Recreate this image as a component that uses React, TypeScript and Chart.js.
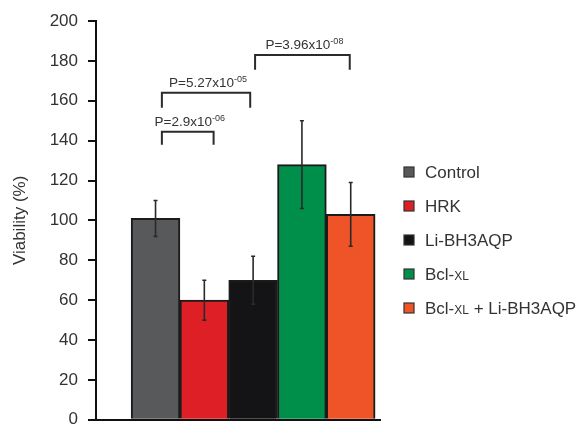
import React, { useEffect, useRef } from "react";
import { Chart, registerables } from "chart.js";

Chart.register(...registerables);

const categories = ["Control", "HRK", "Li-BH3AQP", "Bcl-XL", "Bcl-XL + Li-BH3AQP"];
const viability = [101, 60, 70, 128, 103];
const errors = [9, 10, 12, 22, 16];
const barColors = ["#58595b", "#df1f26", "#141316", "#008f4b", "#ee5428"];
const yTicks = [0, 20, 40, 60, 80, 100, 120, 140, 160, 180, 200];

const bracketFrom = [0.13, 0.13, 2.04];
const bracketTo = [1.19, 1.94, 3.98];
const bracketTop = [144.5, 164, 183];
const bracketLeg = [6.5, 7.5, 7.5];
const bracketMantissa = ["P=2.9x10", "P=5.27x10", "P=3.96x10"];
const bracketExponent = ["-06", "-05", "-08"];

const FONT = "'Liberation Sans', Arial, Helvetica, sans-serif";
const TEXT = "#333333";

const errorBarPlugin = {
  id: "errorBars",
  afterDatasetsDraw(chart: any) {
    const { ctx } = chart;
    const xs = chart.scales.x;
    const ys = chart.scales.y;
    ctx.save();
    ctx.strokeStyle = "#2a2a2a";
    ctx.lineWidth = 1.6;
    viability.forEach((v, i) => {
      const px = xs.getPixelForValue(i);
      const top = ys.getPixelForValue(v + errors[i]);
      const bot = ys.getPixelForValue(v - errors[i]);
      ctx.beginPath();
      ctx.moveTo(px, top);
      ctx.lineTo(px, bot);
      ctx.moveTo(px - 2, top);
      ctx.lineTo(px + 2, top);
      ctx.moveTo(px - 2, bot);
      ctx.lineTo(px + 2, bot);
      ctx.stroke();
    });
    ctx.restore();
  },
};

const bracketPlugin = {
  id: "brackets",
  afterDraw(chart: any) {
    const { ctx } = chart;
    const xs = chart.scales.x;
    const ys = chart.scales.y;
    ctx.save();
    bracketFrom.forEach((from, k) => {
      const x1 = xs.getPixelForValue(from);
      const x2 = xs.getPixelForValue(bracketTo[k]);
      const yt = ys.getPixelForValue(bracketTop[k]);
      const yb = ys.getPixelForValue(bracketTop[k] - bracketLeg[k]);
      ctx.strokeStyle = "#2b2b2b";
      ctx.lineWidth = 2;
      ctx.beginPath();
      ctx.moveTo(x1, yb);
      ctx.lineTo(x1, yt);
      ctx.lineTo(x2, yt);
      ctx.lineTo(x2, yb);
      ctx.stroke();

      ctx.fillStyle = TEXT;
      ctx.textBaseline = "alphabetic";
      ctx.textAlign = "left";
      ctx.font = `13.5px ${FONT}`;
      const w1 = ctx.measureText(bracketMantissa[k]).width;
      ctx.font = `9px ${FONT}`;
      const w2 = ctx.measureText(bracketExponent[k]).width;
      const start = (x1 + x2) / 2 - (w1 + w2) / 2 + 2;
      const base = yt - 6;
      ctx.font = `13.5px ${FONT}`;
      ctx.fillText(bracketMantissa[k], start, base);
      ctx.font = `9px ${FONT}`;
      ctx.fillText(bracketExponent[k], start + w1, base - 5);
    });
    ctx.restore();
  },
};

const legendPlugin = {
  id: "customLegend",
  afterDraw(chart: any) {
    const { ctx, chartArea } = chart;
    const sx = chartArea.right + 24;
    const tx = chartArea.right + 45;
    const y0 = 172;
    const gap = 34;
    ctx.save();
    categories.forEach((label, i) => {
      const cy = y0 + gap * i;
      ctx.fillStyle = barColors[i];
      ctx.fillRect(sx, cy - 5, 10, 10);
      ctx.strokeStyle = "#333";
      ctx.lineWidth = 1.2;
      ctx.strokeRect(sx, cy - 5, 10, 10);

      ctx.fillStyle = TEXT;
      ctx.textBaseline = "alphabetic";
      ctx.textAlign = "left";
      const base = cy + 6;
      const parts = label.split("XL");
      let x = tx;
      parts.forEach((p, j) => {
        ctx.font = `17px ${FONT}`;
        ctx.fillText(p, x, base);
        x += ctx.measureText(p).width;
        if (j < parts.length - 1) {
          ctx.font = `12px ${FONT}`;
          ctx.fillText("XL", x, base);
          x += ctx.measureText("XL").width;
        }
      });
    });
    ctx.restore();
  },
};

export default function App() {
  const ref = useRef<HTMLCanvasElement | null>(null);

  useEffect(() => {
    const canvas = ref.current;
    if (!canvas) return;
    const chart = new Chart(canvas, {
      type: "bar",
      data: {
        datasets: [
          {
            data: categories.map((_, i) => ({ x: i, y: viability[i] })) as any,
            backgroundColor: barColors,
            borderColor: "#1b1b1b",
            borderWidth: 2,
            categoryPercentage: 1,
            barPercentage: 1,
          },
        ],
      },
      options: {
        animation: false,
        responsive: false,
        events: [],
        layout: { padding: { left: 0, top: 21, right: 199, bottom: 20 } },
        plugins: { legend: { display: false }, tooltip: { enabled: false } },
        scales: {
          x: {
            type: "linear",
            offset: false,
            min: -1.22,
            max: 4.6,
            ticks: { display: false, stepSize: 1, includeBounds: false },
            grid: { display: true, offset: false, drawOnChartArea: false, drawTicks: false, color: "#111", lineWidth: 2 },
            border: { display: true, color: "#111", width: 2 },
            afterFit: (s: any) => {
              s.height = 0;
            },
          },
          y: {
            min: 0,
            max: 200,
            afterBuildTicks: (s: any) => {
              s.ticks = yTicks.map((v) => ({ value: v }));
            },
            ticks: { color: TEXT, font: { family: FONT, size: 17 }, padding: 10 },
            grid: { display: true, drawOnChartArea: false, drawTicks: true, tickLength: 8, color: "#111", lineWidth: 2 },
            border: { display: true, color: "#111", width: 2 },
            title: {
              display: true,
              text: "Viability (%)",
              color: TEXT,
              font: { family: FONT, size: 17 },
              padding: { top: 10, bottom: 0 },
            },
            afterFit: (s: any) => {
              s.width = 96;
            },
          },
        },
      } as any,
      plugins: [errorBarPlugin, bracketPlugin, legendPlugin],
    });
    return () => chart.destroy();
  }, []);

  return (
    <div style={{ position: "fixed", left: 0, top: 0, width: 579, height: 425, overflow: "hidden", background: "#fff" }}>
      <canvas ref={ref} width={579} height={440} style={{ display: "block" }} />
    </div>
  );
}
